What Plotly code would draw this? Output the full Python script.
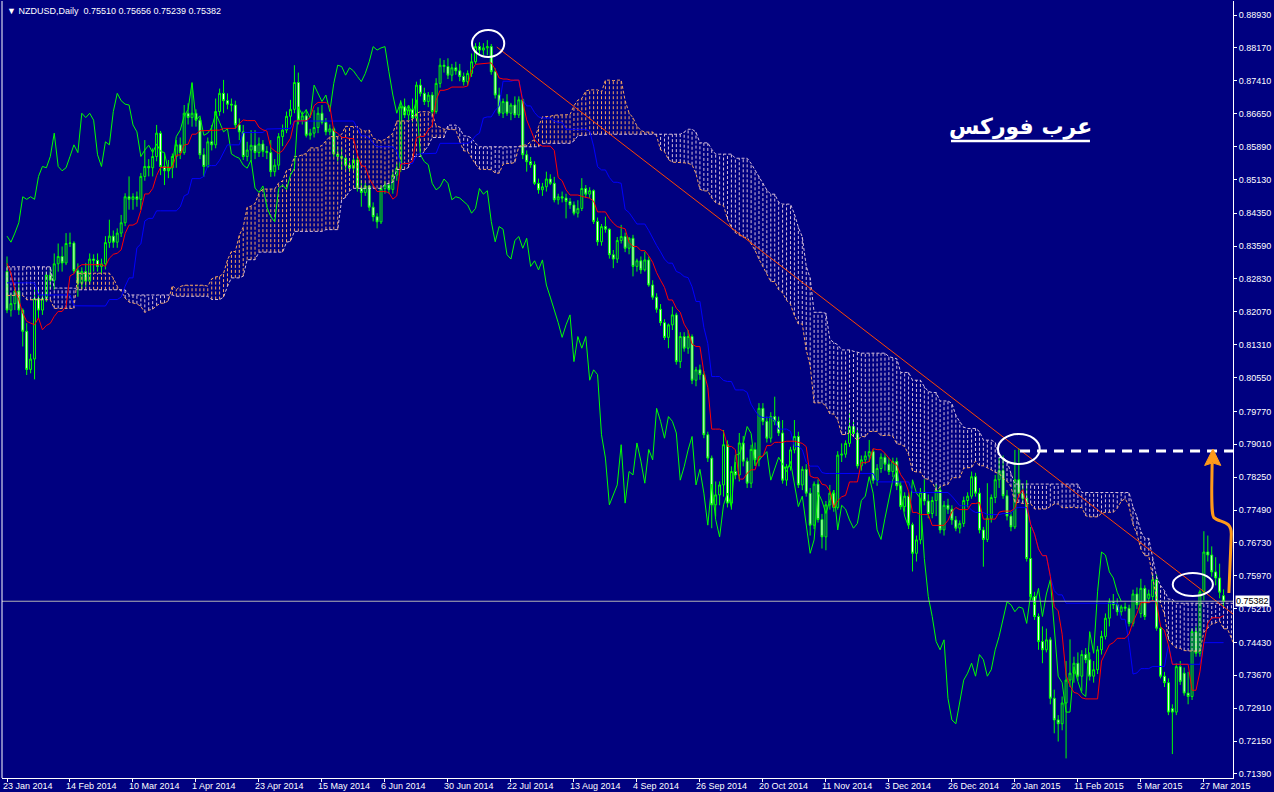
import numpy as np
import pandas as pd
import plotly.graph_objects as go

# ---------------- Daily NZDUSD candles (23 Jan 2014 .. 3 Apr 2015) ----------------
open_ = [
    0.8300,0.8211,0.8226,0.8255,0.8211,0.8162,0.8074,0.8098,0.8238,0.8211,
    0.8238,0.8292,0.8280,0.8318,0.8335,0.8320,0.8365,0.8366,0.8302,0.8273,
    0.8300,0.8278,0.8329,0.8326,0.8312,0.8318,0.8367,0.8382,0.8368,0.8389,
    0.8413,0.8473,0.8467,0.8473,0.8467,0.8520,0.8543,0.8540,0.8566,0.8620,
    0.8543,0.8533,0.8540,0.8566,0.8593,0.8575,0.8666,0.8656,0.8666,0.8650,
    0.8570,0.8543,0.8600,0.8593,0.8670,0.8712,0.8695,0.8687,0.8685,0.8639,
    0.8623,0.8566,0.8581,0.8592,0.8575,0.8595,0.8578,0.8575,0.8531,0.8546,
    0.8612,0.8627,0.8659,0.8675,0.8737,0.8650,0.8660,0.8615,0.8620,0.8633,
    0.8666,0.8645,0.8623,0.8630,0.8572,0.8566,0.8562,0.8546,0.8539,0.8558,
    0.8493,0.8483,0.8498,0.8449,0.8427,0.8415,0.8492,0.8500,0.8490,0.8523,
    0.8539,0.8681,0.8662,0.8674,0.8655,0.8731,0.8712,0.8693,0.8708,0.8670,
    0.8735,0.8777,0.8774,0.8754,0.8771,0.8764,0.8751,0.8739,0.8758,0.8785,
    0.8820,0.8812,0.8817,0.8820,0.8762,0.8708,0.8666,0.8693,0.8666,0.8685,
    0.8662,0.8697,0.8570,0.8554,0.8547,0.8504,0.8489,0.8496,0.8514,0.8504,
    0.8466,0.8473,0.8470,0.8462,0.8454,0.8435,0.8446,0.8492,0.8479,0.8487,
    0.8416,0.8369,0.8404,0.8398,0.8339,0.8329,0.8372,0.8381,0.8354,0.8377,
    0.8312,0.8325,0.8304,0.8327,0.8269,0.8241,0.8213,0.8182,0.8148,0.8177,
    0.8200,0.8092,0.8150,0.8123,0.8150,0.8049,0.8073,0.8062,0.7923,0.7869,
    0.7761,0.7784,0.7807,0.7900,0.7765,0.7838,0.7830,0.7904,0.7862,0.7811,
    0.7889,0.7865,0.7984,0.7954,0.7915,0.7965,0.7954,0.7927,0.7818,0.7849,
    0.7888,0.7919,0.7807,0.7843,0.7788,0.7714,0.7809,0.7727,0.7687,0.7761,
    0.7788,0.7755,0.7876,0.7878,0.7903,0.7942,0.7926,0.7851,0.7865,0.7874,
    0.7884,0.7818,0.7845,0.7871,0.7855,0.7838,0.7861,0.7805,0.7757,0.7781,
    0.7715,0.7649,0.7680,0.7790,0.7770,0.7741,0.7771,0.7795,0.7703,0.7760,
    0.7751,0.7726,0.7707,0.7718,0.7771,0.7781,0.7826,0.7788,0.7703,0.7681,
    0.7730,0.7778,0.7819,0.7840,0.7782,0.7735,0.7710,0.7819,0.7788,0.7776,
    0.7637,0.7549,0.7503,0.7445,0.7426,0.7449,0.7314,0.7264,0.7255,0.7303,
    0.7356,0.7372,0.7395,0.7365,0.7415,0.7403,0.7365,0.7380,0.7426,0.7457,
    0.7499,0.7537,0.7530,0.7514,0.7525,0.7522,0.7487,0.7555,0.7510,0.7568,
    0.7545,0.7549,0.7588,0.7476,0.7365,0.7350,0.7290,0.7282,0.7387,0.7372,
    0.7326,0.7318,0.7468,0.7418,0.7560,0.7652,0.7645,0.7606,0.7592,0.75510,
]
high = [
    0.8335,0.8250,0.8265,0.8280,0.8215,0.8181,0.8110,0.8258,0.8260,0.8250,
    0.8300,0.8310,0.8342,0.8365,0.8358,0.8389,0.8390,0.8370,0.8319,0.8310,
    0.8320,0.8342,0.8340,0.8342,0.8330,0.8382,0.8420,0.8395,0.8400,0.8431,
    0.8481,0.8520,0.8481,0.8485,0.8528,0.8604,0.8560,0.8585,0.8639,0.8625,
    0.8573,0.8558,0.8573,0.8604,0.8610,0.8685,0.8689,0.8735,0.8675,0.8655,
    0.8585,0.8610,0.8639,0.8700,0.8723,0.8743,0.8712,0.8700,0.8695,0.8654,
    0.8639,0.8600,0.8627,0.8627,0.8610,0.8604,0.8590,0.8604,0.8560,0.8620,
    0.8640,0.8670,0.8697,0.8777,0.8760,0.8670,0.8675,0.8630,0.8673,0.8680,
    0.8685,0.8655,0.8640,0.8635,0.8590,0.8585,0.8570,0.8555,0.8570,0.8565,
    0.8512,0.8505,0.8500,0.8460,0.8435,0.8500,0.8510,0.8505,0.8535,0.8550,
    0.8696,0.8700,0.8685,0.8700,0.8739,0.8745,0.8725,0.8715,0.8715,0.8747,
    0.8793,0.8789,0.8793,0.8780,0.8785,0.8780,0.8760,0.8765,0.8804,0.8828,
    0.8830,0.8828,0.8835,0.8826,0.8770,0.8725,0.8700,0.8710,0.8690,0.8705,
    0.8705,0.8700,0.8580,0.8565,0.8555,0.8515,0.8505,0.8531,0.8525,0.8519,
    0.8480,0.8485,0.8480,0.8470,0.8462,0.8465,0.8516,0.8500,0.8495,0.8490,
    0.8425,0.8410,0.8427,0.8400,0.8350,0.8380,0.8408,0.8390,0.8380,0.8385,
    0.8330,0.8335,0.8346,0.8335,0.8280,0.8250,0.8225,0.8190,0.8180,0.8219,
    0.8205,0.8160,0.8160,0.8165,0.8155,0.8080,0.8085,0.8070,0.7930,0.7875,
    0.7815,0.7815,0.7934,0.7910,0.7850,0.7860,0.7927,0.7920,0.7870,0.7900,
    0.7905,0.7996,0.7996,0.7965,0.7975,0.8011,0.7965,0.7957,0.7855,0.7895,
    0.7957,0.7930,0.7850,0.7855,0.7800,0.7815,0.7820,0.7740,0.7770,0.7807,
    0.7795,0.7885,0.7903,0.7910,0.7972,0.7955,0.7935,0.7875,0.7885,0.7911,
    0.7890,0.7855,0.7880,0.7880,0.7870,0.7870,0.7870,0.7815,0.7790,0.7790,
    0.7720,0.7690,0.7800,0.7820,0.7785,0.7780,0.7810,0.7805,0.7770,0.7775,
    0.7760,0.7735,0.7725,0.7780,0.7790,0.7838,0.7835,0.7800,0.7710,0.7811,
    0.7785,0.7830,0.7870,0.7875,0.7795,0.7745,0.7888,0.7892,0.7810,0.7818,
    0.7710,0.7560,0.7510,0.7480,0.7475,0.7455,0.7334,0.7275,0.7318,0.7400,
    0.7450,0.7410,0.7420,0.7425,0.7430,0.7420,0.7400,0.7435,0.7470,0.7510,
    0.7545,0.7555,0.7545,0.7530,0.7535,0.7530,0.7565,0.7570,0.7590,0.7575,
    0.7565,0.7600,0.7600,0.7480,0.7375,0.7360,0.7300,0.7395,0.7400,0.7385,
    0.7375,0.7475,0.7480,0.7565,0.7700,0.7690,0.7665,0.7640,0.7625,0.75656,
]
low = [
    0.8204,0.8196,0.8211,0.8200,0.8127,0.8061,0.8065,0.8051,0.8190,0.8200,
    0.8230,0.8260,0.8258,0.8300,0.8300,0.8315,0.8357,0.8296,0.8242,0.8260,
    0.8265,0.8270,0.8300,0.8300,0.8295,0.8305,0.8355,0.8355,0.8355,0.8380,
    0.8405,0.8443,0.8443,0.8450,0.8443,0.8510,0.8520,0.8520,0.8555,0.8523,
    0.8500,0.8516,0.8516,0.8540,0.8560,0.8570,0.8640,0.8635,0.8635,0.8560,
    0.8519,0.8540,0.8580,0.8585,0.8660,0.8666,0.8675,0.8670,0.8630,0.8604,
    0.8558,0.8555,0.8558,0.8560,0.8565,0.8565,0.8560,0.8519,0.8520,0.8535,
    0.8590,0.8620,0.8640,0.8666,0.8640,0.8640,0.8610,0.8605,0.8610,0.8620,
    0.8640,0.8615,0.8615,0.8565,0.8555,0.8535,0.8535,0.8530,0.8530,0.8485,
    0.8450,0.8475,0.8440,0.8416,0.8400,0.8410,0.8480,0.8480,0.8480,0.8510,
    0.8530,0.8655,0.8650,0.8645,0.8650,0.8705,0.8685,0.8680,0.8660,0.8665,
    0.8725,0.8760,0.8745,0.8740,0.8755,0.8740,0.8730,0.8730,0.8750,0.8780,
    0.8800,0.8800,0.8800,0.8755,0.8700,0.8660,0.8655,0.8660,0.8650,0.8655,
    0.8655,0.8560,0.8531,0.8540,0.8500,0.8480,0.8475,0.8485,0.8500,0.8460,
    0.8455,0.8460,0.8423,0.8445,0.8430,0.8425,0.8440,0.8470,0.8470,0.8410,
    0.8360,0.8360,0.8390,0.8330,0.8308,0.8320,0.8365,0.8345,0.8340,0.8289,
    0.8300,0.8295,0.8300,0.8265,0.8235,0.8205,0.8175,0.8142,0.8123,0.8165,
    0.8085,0.8077,0.8115,0.8110,0.8040,0.8035,0.8050,0.7915,0.7860,0.7707,
    0.7734,0.7760,0.7780,0.7755,0.7750,0.7820,0.7815,0.7850,0.7800,0.7800,
    0.7855,0.7850,0.7945,0.7905,0.7905,0.7945,0.7920,0.7810,0.7805,0.7840,
    0.7880,0.7800,0.7795,0.7780,0.7690,0.7705,0.7720,0.7660,0.7656,0.7750,
    0.7745,0.7750,0.7860,0.7870,0.7895,0.7920,0.7845,0.7840,0.7855,0.7860,
    0.7810,0.7805,0.7835,0.7840,0.7830,0.7825,0.7795,0.7750,0.7745,0.7705,
    0.7607,0.7630,0.7670,0.7760,0.7730,0.7730,0.7735,0.7695,0.7690,0.7740,
    0.7715,0.7700,0.7695,0.7710,0.7755,0.7775,0.7780,0.7695,0.7618,0.7675,
    0.7720,0.7765,0.7800,0.7775,0.7725,0.7700,0.7705,0.7780,0.7765,0.7630,
    0.7540,0.7495,0.7426,0.7395,0.7420,0.7300,0.7233,0.7214,0.7240,0.7175,
    0.7340,0.7350,0.7355,0.7330,0.7395,0.7355,0.7350,0.7370,0.7415,0.7450,
    0.7480,0.7520,0.7505,0.7505,0.7515,0.7480,0.7480,0.7520,0.7500,0.7495,
    0.7535,0.7540,0.7470,0.7360,0.7340,0.7275,0.7185,0.7275,0.7345,0.7320,
    0.7300,0.7310,0.7410,0.7410,0.7540,0.7630,0.7595,0.7575,0.7545,0.75239,
]
close = [
    0.8211,0.8226,0.8255,0.8211,0.8162,0.8074,0.8098,0.8238,0.8211,0.8238,
    0.8292,0.8280,0.8318,0.8335,0.8320,0.8365,0.8366,0.8302,0.8273,0.8300,
    0.8278,0.8329,0.8326,0.8312,0.8318,0.8367,0.8382,0.8368,0.8389,0.8413,
    0.8473,0.8467,0.8473,0.8467,0.8520,0.8543,0.8540,0.8566,0.8620,0.8543,
    0.8533,0.8540,0.8566,0.8593,0.8575,0.8666,0.8656,0.8666,0.8650,0.8570,
    0.8543,0.8600,0.8593,0.8670,0.8712,0.8695,0.8687,0.8685,0.8639,0.8623,
    0.8566,0.8581,0.8592,0.8575,0.8595,0.8578,0.8575,0.8531,0.8546,0.8612,
    0.8627,0.8659,0.8675,0.8737,0.8650,0.8660,0.8615,0.8620,0.8633,0.8666,
    0.8645,0.8623,0.8630,0.8572,0.8566,0.8562,0.8546,0.8539,0.8558,0.8493,
    0.8483,0.8498,0.8449,0.8427,0.8415,0.8492,0.8500,0.8490,0.8523,0.8539,
    0.8681,0.8662,0.8674,0.8655,0.8731,0.8712,0.8693,0.8708,0.8670,0.8735,
    0.8777,0.8774,0.8754,0.8771,0.8764,0.8751,0.8739,0.8758,0.8785,0.8820,
    0.8812,0.8817,0.8820,0.8762,0.8708,0.8666,0.8693,0.8666,0.8685,0.8662,
    0.8697,0.8570,0.8554,0.8547,0.8504,0.8489,0.8496,0.8514,0.8504,0.8466,
    0.8473,0.8470,0.8462,0.8454,0.8435,0.8446,0.8492,0.8479,0.8487,0.8416,
    0.8369,0.8404,0.8398,0.8339,0.8329,0.8372,0.8381,0.8354,0.8377,0.8312,
    0.8325,0.8304,0.8327,0.8269,0.8241,0.8213,0.8182,0.8148,0.8177,0.8200,
    0.8092,0.8150,0.8123,0.8150,0.8049,0.8073,0.8062,0.7923,0.7869,0.7761,
    0.7784,0.7807,0.7900,0.7765,0.7838,0.7830,0.7904,0.7862,0.7811,0.7889,
    0.7865,0.7984,0.7954,0.7915,0.7965,0.7954,0.7927,0.7818,0.7849,0.7888,
    0.7919,0.7807,0.7843,0.7788,0.7714,0.7809,0.7727,0.7687,0.7761,0.7788,
    0.7755,0.7876,0.7878,0.7903,0.7942,0.7926,0.7851,0.7865,0.7874,0.7884,
    0.7818,0.7845,0.7871,0.7855,0.7838,0.7861,0.7805,0.7757,0.7781,0.7715,
    0.7649,0.7680,0.7790,0.7770,0.7741,0.7771,0.7795,0.7703,0.7760,0.7751,
    0.7726,0.7707,0.7718,0.7771,0.7781,0.7826,0.7788,0.7703,0.7681,0.7730,
    0.7778,0.7819,0.7840,0.7782,0.7735,0.7710,0.7819,0.7788,0.7776,0.7637,
    0.7549,0.7503,0.7445,0.7426,0.7449,0.7314,0.7264,0.7255,0.7303,0.7356,
    0.7372,0.7395,0.7365,0.7415,0.7403,0.7365,0.7380,0.7426,0.7457,0.7499,
    0.7537,0.7530,0.7514,0.7525,0.7522,0.7487,0.7555,0.7530,0.7568,0.7503,
    0.7555,0.7588,0.7476,0.7365,0.7350,0.7282,0.7282,0.7387,0.7353,0.7326,
    0.7318,0.7468,0.7418,0.7560,0.7652,0.7645,0.7606,0.7592,0.7559,0.75382,
]

# Ichimoku values at the left edge (need history before the chart)
tenkan_pre = [0.8319,0.8296,0.8258,0.8235,0.8204,0.8185,0.8181,0.8177]
kijun_pre = [0.8274]*8 + [0.8246]*9 + [0.8221]*8
span_a_pre = [0.8245]*5 + [0.8235]*7 + [0.8215]*6 + [0.8296]*8
span_b_pre = [0.8311]*12 + [0.8262]*6 + [0.8258]*13 + [0.8246]*12 + [0.8243]*9

# axis labels
date_labels = ["23 Jan 2014","14 Feb 2014","10 Mar 2014","1 Apr 2014","23 Apr 2014","15 May 2014",
               "6 Jun 2014","30 Jun 2014","22 Jul 2014","13 Aug 2014","4 Sep 2014","26 Sep 2014",
               "20 Oct 2014","11 Nov 2014","3 Dec 2014","26 Dec 2014","20 Jan 2015","11 Feb 2015",
               "5 Mar 2015","27 Mar 2015"]
label_step = 16
price_ticks = [0.88930,0.88170,0.87410,0.86650,0.85890,0.85130,0.84350,0.83590,0.82830,0.82070,
               0.81310,0.80550,0.79770,0.79010,0.78250,0.77490,0.76730,0.75970,0.75210,0.74430,
               0.73670,0.72910,0.72150,0.71390]
last_price = 0.75382
header_text = "\u25BC NZDUSD,Daily  0.75510 0.75656 0.75239 0.75382"
brand_text = "عرب فوركس"

# hand-drawn objects (bar index, price)
trend_pts = ([124.4, 311.4], [0.8819, 0.75087])
ellipses = [(122.2, 0.88271, 4.1, 0.00312), (257.0, 0.78900, 5.3, 0.00347), (301.2, 0.75769, 5.1, 0.00266)]
level_line = (257.3, 0.78854)

# ---------------- computations ----------------
n = len(close)
x = np.arange(n)
H = pd.Series(high); L = pd.Series(low)
tenkan = ((H.rolling(9).max() + L.rolling(9).min()) / 2).to_numpy()
tenkan[:len(tenkan_pre)] = tenkan_pre
kijun = ((H.rolling(26).max() + L.rolling(26).min()) / 2).to_numpy()
kijun[:len(kijun_pre)] = kijun_pre
m = n + 26
span_a = np.full(m, np.nan); span_b = np.full(m, np.nan)
span_a[:26] = span_a_pre
for j in range(26, m):
    span_a[j] = (tenkan[j - 26] + kijun[j - 26]) / 2
span_b[:52] = span_b_pre
for j in range(52, m):
    lo, hi = max(0, j - 77), j - 26
    span_b[j] = (max(high[lo:hi + 1]) + min(low[lo:hi + 1])) / 2
xc = np.arange(m)

hx_up, hy_up, hx_dn, hy_dn = [], [], [], []
for j in range(m):
    a, b = span_a[j], span_b[j]
    if a >= b:
        hx_up += [j, j, None]; hy_up += [b, a, None]
    else:
        hx_dn += [j, j, None]; hy_dn += [a, b, None]

NAVY = "#000080"
SANDY = "#f4a460"
THISTLE = "#d8bfd8"
FONT = "Liberation Sans"

fig = go.Figure()
fig.add_trace(go.Scatter(x=hx_up, y=hy_up, mode="lines", line=dict(color=SANDY, width=1, dash="3px,2px"), hoverinfo="skip"))
fig.add_trace(go.Scatter(x=hx_dn, y=hy_dn, mode="lines", line=dict(color=THISTLE, width=1, dash="3px,2px"), hoverinfo="skip"))
fig.add_trace(go.Scatter(x=xc, y=span_a, mode="lines", line=dict(color=SANDY, width=1, dash="3px,2px")))
fig.add_trace(go.Scatter(x=xc, y=span_b, mode="lines", line=dict(color=THISTLE, width=1, dash="3px,2px")))

fig.add_trace(go.Candlestick(
    x=x, open=open_, high=high, low=low, close=close,
    increasing=dict(line=dict(color="#00ff00", width=1), fillcolor=NAVY),
    decreasing=dict(line=dict(color="#00ff00", width=1), fillcolor="#ffffff"),
    whiskerwidth=0,
))
fig.add_trace(go.Scatter(x=x[:n - 26], y=close[26:], mode="lines", line=dict(color="#00ff00", width=1)))
fig.add_trace(go.Scatter(x=x, y=kijun, mode="lines", line=dict(color="#0000ff", width=1)))
fig.add_trace(go.Scatter(x=x, y=tenkan, mode="lines", line=dict(color="#ff0000", width=1)))
fig.add_trace(go.Scatter(x=trend_pts[0], y=trend_pts[1], mode="lines", line=dict(color="#ff4500", width=1)))

shapes = []
# bid line
shapes.append(dict(type="line", xref="paper", x0=0, x1=1, yref="y", y0=last_price, y1=last_price,
                   line=dict(color="#b4b4b4", width=1)))
# left frame line
shapes.append(dict(type="line", xref="paper", x0=0, x1=0, yref="paper", y0=0, y1=1, line=dict(color="white", width=1)))
for cx, cy, rx, ry in ellipses:
    shapes.append(dict(type="circle", xref="x", yref="y", x0=cx - rx, x1=cx + rx, y0=cy - ry, y1=cy + ry,
                       line=dict(color="white", width=2)))
shapes.append(dict(type="line", xref="paper", yref="y", x0=0.8270, x1=1.0057, y0=level_line[1], y1=level_line[1],
                   line=dict(color="white", width=3, dash="10px,7px")))
# orange hand-drawn arrow
shapes.append(dict(type="path", xref="x", yref="y",
                   path="M 310.35,0.75572 L 310.95,0.7690 C 311.2,0.7728 308.0,0.7718 306.5,0.7732 "
                        "C 306.0,0.7740 306.0,0.7760 306.0,0.7800 L 306.1,0.7858",
                   line=dict(color="#ff9a1a", width=3)))
shapes.append(dict(type="path", xref="x", yref="y",
                   path="M 306.3,0.7890 L 304.2,0.7852 L 306.2,0.7858 L 308.3,0.7852 Z",
                   fillcolor="#ff9a1a", line=dict(color="#ff9a1a", width=1)))
# underline of the brand text
shapes.append(dict(type="line", xref="paper", yref="paper", x0=0.7709, x1=0.8838, y0=0.8198, y1=0.8198,
                   line=dict(color="white", width=2.5)))

annotations = []
for k, lab in enumerate(date_labels):
    annotations.append(dict(x=k * label_step, xref="x", y=0, yref="paper", text=lab, showarrow=False,
                            xanchor="left", yanchor="top", xshift=-6, yshift=-1,
                            font=dict(family=FONT, size=9, color="white")))
annotations.append(dict(x=0.0024, xref="paper", y=0.9871, yref="paper", text=header_text, showarrow=False,
                        xanchor="left", yanchor="middle", font=dict(family=FONT, size=9, color="white")))
annotations.append(dict(x=0.8270, xref="paper", y=0.8378, yref="paper", text="<b>" + brand_text + "</b>",
                        showarrow=False, xanchor="center", yanchor="middle",
                        font=dict(family="DejaVu Sans", size=22, color="white")))
annotations.append(dict(x=1.0, xref="paper", y=last_price, yref="y", text=f"{last_price:.5f}", showarrow=False,
                        xanchor="left", yanchor="middle", xshift=2, bgcolor="white", borderpad=0,
                        font=dict(family=FONT, size=9, color="black")))

fig.update_layout(
    width=1274, height=792,
    margin=dict(l=2, r=41, t=1, b=14),
    paper_bgcolor=NAVY, plot_bgcolor=NAVY,
    showlegend=False,
    hovermode=False,
    shapes=shapes,
    annotations=annotations,
    xaxis=dict(range=[-1.27, 311.4], showgrid=False, zeroline=False, showline=True, linecolor="white",
               linewidth=1, ticks="outside", ticklen=3, tickcolor="white",
               tickvals=[k * label_step for k in range(len(date_labels))], showticklabels=False,
               rangeslider=dict(visible=False)),
    yaxis=dict(side="right", range=[0.71297, 0.89254], showgrid=False, zeroline=False, showline=True,
               linecolor="white", linewidth=1, ticks="outside", ticklen=3, tickcolor="white",
               tickvals=price_ticks, ticktext=[f"{v:.5f}" for v in price_ticks],
               tickfont=dict(family=FONT, size=9, color="white")),
)

fig.write_html("out.html", config={"displayModeBar": False},
               post_script="document.body.style.margin='0';document.body.style.overflow='hidden';")
